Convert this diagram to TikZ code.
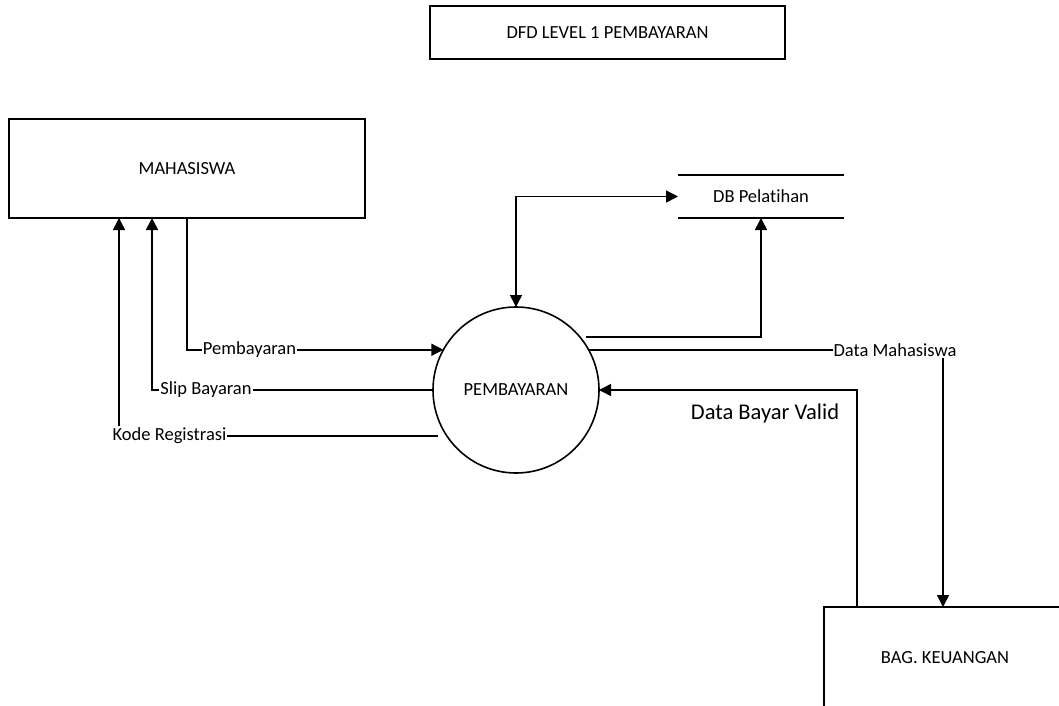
\documentclass[tikz,border=0pt]{standalone}
\usepackage{fontspec}
\setmainfont{Carlito}[Ligatures=NoCommon]
\usetikzlibrary{arrows.meta}
\begin{document}
\begin{tikzpicture}[x=1pt,y=-1pt,
  box/.style={draw, line width=1.6pt, inner sep=0pt, outer sep=0pt, font=\fontsize{18.5}{20}\selectfont},
  lab/.style={fill=white, inner xsep=1pt, inner ysep=1.5pt, font=\fontsize{18.5}{20}\selectfont},
  flow/.style={line width=1.6pt, -{Triangle[length=12pt,width=12pt]}},
  plain/.style={line width=1.6pt}]
\useasboundingbox (0,0) rectangle (1059,706);
\clip (0,0) rectangle (1059,706);
% nodes
\node[box, minimum width=355pt, minimum height=53pt] (title) at (607.5,32.5) {DFD LEVEL 1 PEMBAYARAN};
\node[box, minimum width=356pt, minimum height=99pt] (mhs) at (187,168.5) {MAHASISWA};
\node[box, circle, minimum size=166pt] (pb) at (516,390) {PEMBAYARAN};
\node[box, draw=none, minimum width=166pt, minimum height=43pt] (db) at (761,196.5) {DB Pelatihan};
\draw[plain] (db.north west) -- (db.north east);
\draw[plain] (db.south west) -- (db.south east);
\node[box, minimum width=242pt, minimum height=102pt] (bag) at (945,658) {BAG. KEUANGAN};
\coordinate (kr) at (438,436);
\coordinate (c2) at (586,337);
% connectors
\draw[flow] (mhs.south) |- (pb.151);
\draw[flow] (pb.west) -| ([xshift=143pt]mhs.south west);
\draw[flow] (kr) -| ([xshift=110pt]mhs.south west);
\draw[line width=1.6pt, {Triangle[length=12pt,width=12pt]}-{Triangle[length=12pt,width=12pt]}] (pb.north) |- (db.west);
\draw[flow] (c2) -| (db.south);
\draw[flow] (pb.29) -| ([xshift=119pt]bag.north west);
\draw[flow] ([xshift=33pt]bag.north west) |- (pb.east);
% labels
\node[lab] (lpb) at (249.5,350) {Pembayaran};
\node[lab] (lsb) at (206,390) {Slip Bayaran};
\node[lab] (lkr) at (169.5,436) {Kode Registrasi};
\node[lab] (ldm) at (895,350) {Data Mahasiswa};
\node[font=\fontsize{22.5}{24}\selectfont, inner sep=0pt] (ldv) at (765,413) {Data Bayar Valid};
\end{tikzpicture}
\end{document}
